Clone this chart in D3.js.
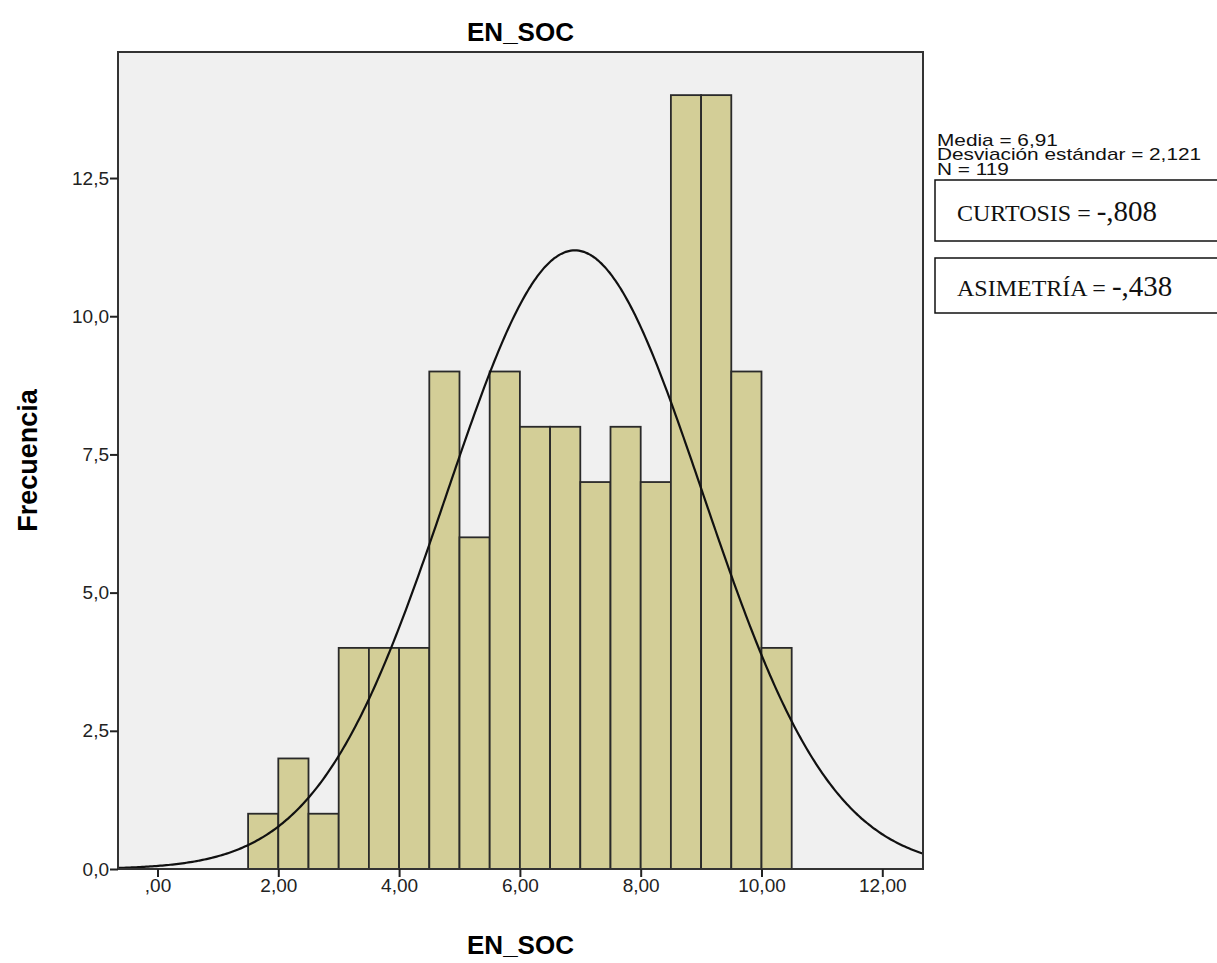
<!DOCTYPE html>
<html>
<head>
<meta charset="utf-8">
<script src="https://cdn.jsdelivr.net/npm/d3@7"></script>
<style>
  html, body { margin: 0; padding: 0; background: #ffffff; }
  svg { display: block; }
</style>
</head>
<body>
<svg id="chart" width="1217" height="963"></svg>
<script>
// Histogram of EN_SOC, bins 0.5 wide starting at 1.5
const binStarts = [1.5, 2.0, 2.5, 3.0, 3.5, 4.0, 4.5, 5.0, 5.5, 6.0, 6.5, 7.0, 7.5, 8.0, 8.5, 9.0, 9.5, 10.0];
const binCounts = [1, 2, 1, 4, 4, 4, 9, 6, 9, 8, 8, 7, 8, 7, 14, 14, 9, 4];
const binWidth = 0.5;

const xTicks = [0, 2, 4, 6, 8, 10, 12];
const xTickLabels = [",00", "2,00", "4,00", "6,00", "8,00", "10,00", "12,00"];
const yTicks = [0, 2.5, 5, 7.5, 10, 12.5];
const yTickLabels = ["0,0", "2,5", "5,0", "7,5", "10,0", "12,5"];

const statsLines = ["Media = 6,91", "Desviación estándar = 2,121", "N = 119"];
const meanValue = 6.91;
const sdValue = 2.121;
const nValue = 119;
const kurtosisLabel = ["CURTOSIS = ", "-,808"];
const skewLabel = ["ASIMETRÍA = ", "-,438"];

const svg = d3.select("#chart");
const plot = { left: 118, right: 923, top: 52, bottom: 869 };

const x = d3.scaleLinear().domain([-0.654, 12.674]).range([plot.left, plot.right]);
const y = d3.scaleLinear().domain([0, 14.78]).range([plot.bottom, plot.top]);

// plot background
svg.append("rect")
  .attr("x", plot.left).attr("y", plot.top)
  .attr("width", plot.right - plot.left).attr("height", plot.bottom - plot.top)
  .attr("fill", "#f0f0f0");

svg.append("clipPath").attr("id", "plotclip")
  .append("rect")
  .attr("x", plot.left).attr("y", plot.top)
  .attr("width", plot.right - plot.left).attr("height", plot.bottom - plot.top);

// bars
svg.append("g").selectAll("rect")
  .data(binStarts.map((s, i) => ({ s, c: binCounts[i] })))
  .join("rect")
  .attr("x", d => x(d.s))
  .attr("y", d => y(d.c))
  .attr("width", d => x(d.s + binWidth) - x(d.s))
  .attr("height", d => y(0) - y(d.c))
  .attr("fill", "#d3ce97")
  .attr("stroke", "#2a2a2a")
  .attr("stroke-width", 1.8);

// normal curve scaled to counts
const scaleFactor = nValue * binWidth / (sdValue * Math.sqrt(2 * Math.PI));
const curvePts = d3.range(0, 401).map(i => {
  const v = x.domain()[0] + (x.domain()[1] - x.domain()[0]) * i / 400;
  return [v, scaleFactor * Math.exp(-0.5 * Math.pow((v - meanValue) / sdValue, 2))];
});
svg.append("path")
  .datum(curvePts)
  .attr("clip-path", "url(#plotclip)")
  .attr("fill", "none")
  .attr("stroke", "#111")
  .attr("stroke-width", 2.2)
  .attr("d", d3.line().x(d => x(d[0])).y(d => y(d[1])).curve(d3.curveBasis));

// plot frame
svg.append("rect")
  .attr("x", plot.left).attr("y", plot.top)
  .attr("width", plot.right - plot.left).attr("height", plot.bottom - plot.top)
  .attr("fill", "none")
  .attr("stroke", "#333")
  .attr("stroke-width", 2);

// axes
const xAxis = d3.axisBottom(x).tickValues(xTicks)
  .tickFormat((d, i) => xTickLabels[i]).tickSize(8).tickSizeOuter(0);
const gx = svg.append("g").attr("transform", `translate(0,${plot.bottom})`).call(xAxis);
gx.select(".domain").remove();
gx.selectAll(".tick line").attr("stroke", "#222").attr("stroke-width", 2);
gx.selectAll(".tick text")
  .attr("font-family", "Liberation Sans, Arial, sans-serif")
  .attr("font-size", 19).attr("fill", "#222").attr("y", 8).attr("dy", "0.8em");

const yAxis = d3.axisLeft(y).tickValues(yTicks)
  .tickFormat((d, i) => yTickLabels[i]).tickSize(8).tickSizeOuter(0);
const gy = svg.append("g").attr("transform", `translate(${plot.left},0)`).call(yAxis);
gy.select(".domain").remove();
gy.selectAll(".tick line").attr("stroke", "#222").attr("stroke-width", 2);
gy.selectAll(".tick text")
  .attr("font-family", "Liberation Sans, Arial, sans-serif")
  .attr("font-size", 19).attr("fill", "#222").attr("x", -9);

// titles
svg.append("text")
  .attr("x", (plot.left + plot.right) / 2).attr("y", 41)
  .attr("text-anchor", "middle")
  .attr("font-family", "Liberation Sans, Arial, sans-serif")
  .attr("font-weight", "bold").attr("font-size", 26)
  .text("EN_SOC");

svg.append("text")
  .attr("x", (plot.left + plot.right) / 2).attr("y", 954)
  .attr("text-anchor", "middle")
  .attr("font-family", "Liberation Sans, Arial, sans-serif")
  .attr("font-weight", "bold").attr("font-size", 26)
  .text("EN_SOC");

svg.append("text")
  .attr("transform", `translate(37,${(plot.top + plot.bottom) / 2}) rotate(-90)`)
  .attr("text-anchor", "middle")
  .attr("font-family", "Liberation Sans, Arial, sans-serif")
  .attr("font-weight", "bold").attr("font-size", 27)
  .text("Frecuencia");

// summary statistics (wide-set text)
svg.append("g").attr("transform", "translate(937,0) scale(1.3,1)")
  .selectAll("text")
  .data(statsLines)
  .join("text")
  .attr("x", 0)
  .attr("y", (d, i) => 146 + i * 14.5)
  .attr("font-family", "Liberation Sans, Arial, sans-serif")
  .attr("font-size", 16).attr("fill", "#111")
  .text(d => d);

// boxed annotations
function statBox(top, bottom, parts) {
  svg.append("rect")
    .attr("x", 935).attr("y", top)
    .attr("width", 300).attr("height", bottom - top)
    .attr("fill", "#fff").attr("stroke", "#111").attr("stroke-width", 1.5);
  const t = svg.append("text")
    .attr("x", 957).attr("y", (top + bottom) / 2 + 10)
    .attr("font-family", "Liberation Serif, Times New Roman, serif")
    .attr("fill", "#111");
  t.append("tspan").attr("font-size", 24).text(parts[0]);
  t.append("tspan").attr("font-size", 29).text(parts[1]);
}
statBox(180, 241, kurtosisLabel);
statBox(258, 313, skewLabel);
</script>
</body>
</html>
